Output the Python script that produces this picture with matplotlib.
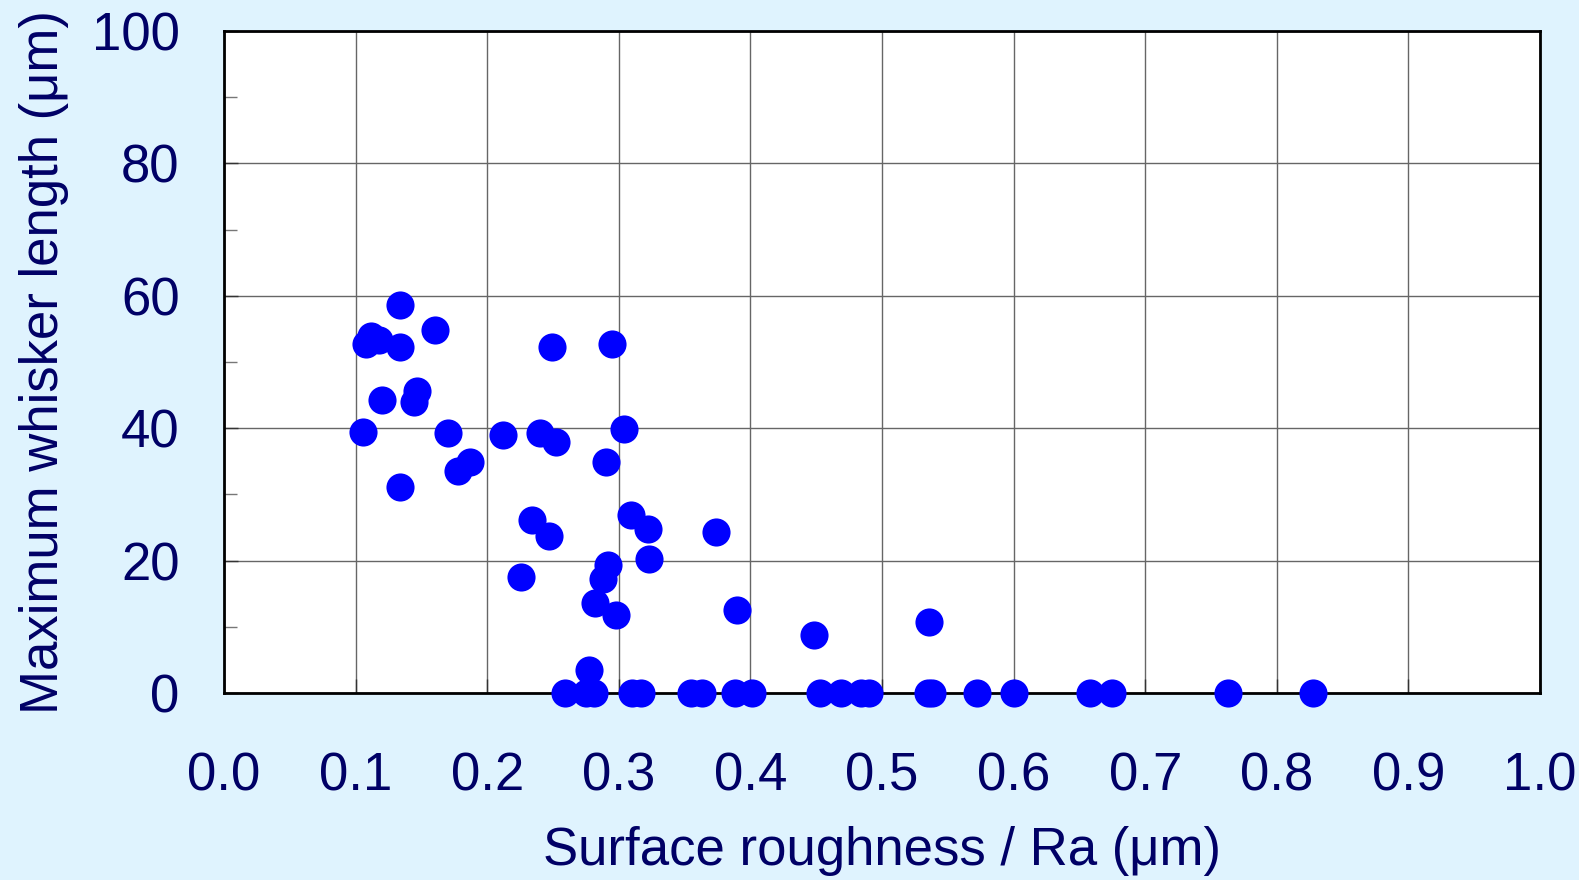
import matplotlib
matplotlib.use("Agg")
import matplotlib.pyplot as plt
from matplotlib.ticker import MultipleLocator

# Surface roughness Ra (µm) and maximum whisker length (µm)
ra_grown = [0.106, 0.108, 0.1115, 0.118, 0.134, 0.134, 0.120, 0.144, 0.147,
            0.134, 0.160, 0.170, 0.178, 0.187, 0.212, 0.226, 0.234, 0.240,
            0.247, 0.249, 0.252, 0.277, 0.282, 0.288, 0.292, 0.290, 0.295,
            0.298, 0.304, 0.309, 0.3225, 0.323, 0.374, 0.390, 0.4485, 0.5355]
len_grown = [39.5, 52.7, 53.9, 53.3, 58.6, 52.3, 44.2, 43.9, 45.6,
             31.1, 54.9, 39.3, 33.5, 34.9, 38.9, 17.5, 26.1, 39.2,
             23.7, 52.2, 37.9, 3.4, 13.6, 17.2, 19.3, 34.9, 52.7,
             11.8, 39.9, 26.9, 24.8, 20.2, 24.3, 12.5, 8.8, 10.8]

# Samples with no whisker growth
ra_none = [0.259, 0.275, 0.281, 0.310, 0.317, 0.355, 0.363, 0.388, 0.401,
           0.453, 0.469, 0.484, 0.490, 0.535, 0.538, 0.572, 0.600, 0.658,
           0.675, 0.763, 0.8275]
len_none = [0.0] * len(ra_none)

x_ticks = [0.0, 0.1, 0.2, 0.3, 0.4, 0.5, 0.6, 0.7, 0.8, 0.9, 1.0]
x_tick_labels = ["0.0", "0.1", "0.2", "0.3", "0.4", "0.5", "0.6", "0.7", "0.8", "0.9", "1.0"]
y_ticks = [0, 20, 40, 60, 80, 100]
y_tick_labels = ["0", "20", "40", "60", "80", "100"]

x_label = "Surface roughness / Ra (μm)"
y_label = "Maximum whisker length (μm)"

bg = "#DFF3FE"
ink = "#000066"
dot = "#0000FF"

plt.rcParams["font.family"] = ["Liberation Sans", "DejaVu Sans"]

fig = plt.figure(figsize=(15.79, 8.80), dpi=100, facecolor=bg)
ax = fig.add_axes([224 / 1579, 1 - 693 / 880, (1540 - 224) / 1579, (693 - 31) / 880])
ax.set_facecolor("white")

ax.set_xlim(0, 1.0)
ax.set_ylim(0, 100)

ax.set_xticks(x_ticks)
ax.set_xticklabels(x_tick_labels)
ax.set_yticks(y_ticks)
ax.set_yticklabels(y_tick_labels)
ax.yaxis.set_minor_locator(MultipleLocator(10))

ax.grid(True, which="major", color="#666666", linewidth=1.0, zorder=0)
ax.set_axisbelow(True)

ax.tick_params(axis="both", which="major", direction="in", length=10,
               width=1.0, color="#333333", labelsize=38, labelcolor=ink)
ax.tick_params(axis="x", which="major", pad=42)
ax.tick_params(axis="y", which="major", pad=32)
ax.tick_params(axis="y", which="minor", direction="in", length=9,
               width=1.0, color="#777777")
ax.tick_params(top=False, right=False)

for s in ax.spines.values():
    s.set_linewidth(2.0)
    s.set_color("black")
    s.set_zorder(2)

ax.scatter(ra_grown, len_grown, s=410, color=dot, linewidths=0,
           zorder=3, clip_on=False)
ax.scatter(ra_none, len_none, s=410, color=dot, linewidths=0,
           zorder=3, clip_on=False)

ax.set_xlabel(x_label, fontsize=38, color=ink, labelpad=18)
ax.set_ylabel(y_label, fontsize=38, color=ink, labelpad=16)

fig.savefig("out.png", dpi=100, facecolor=bg)
